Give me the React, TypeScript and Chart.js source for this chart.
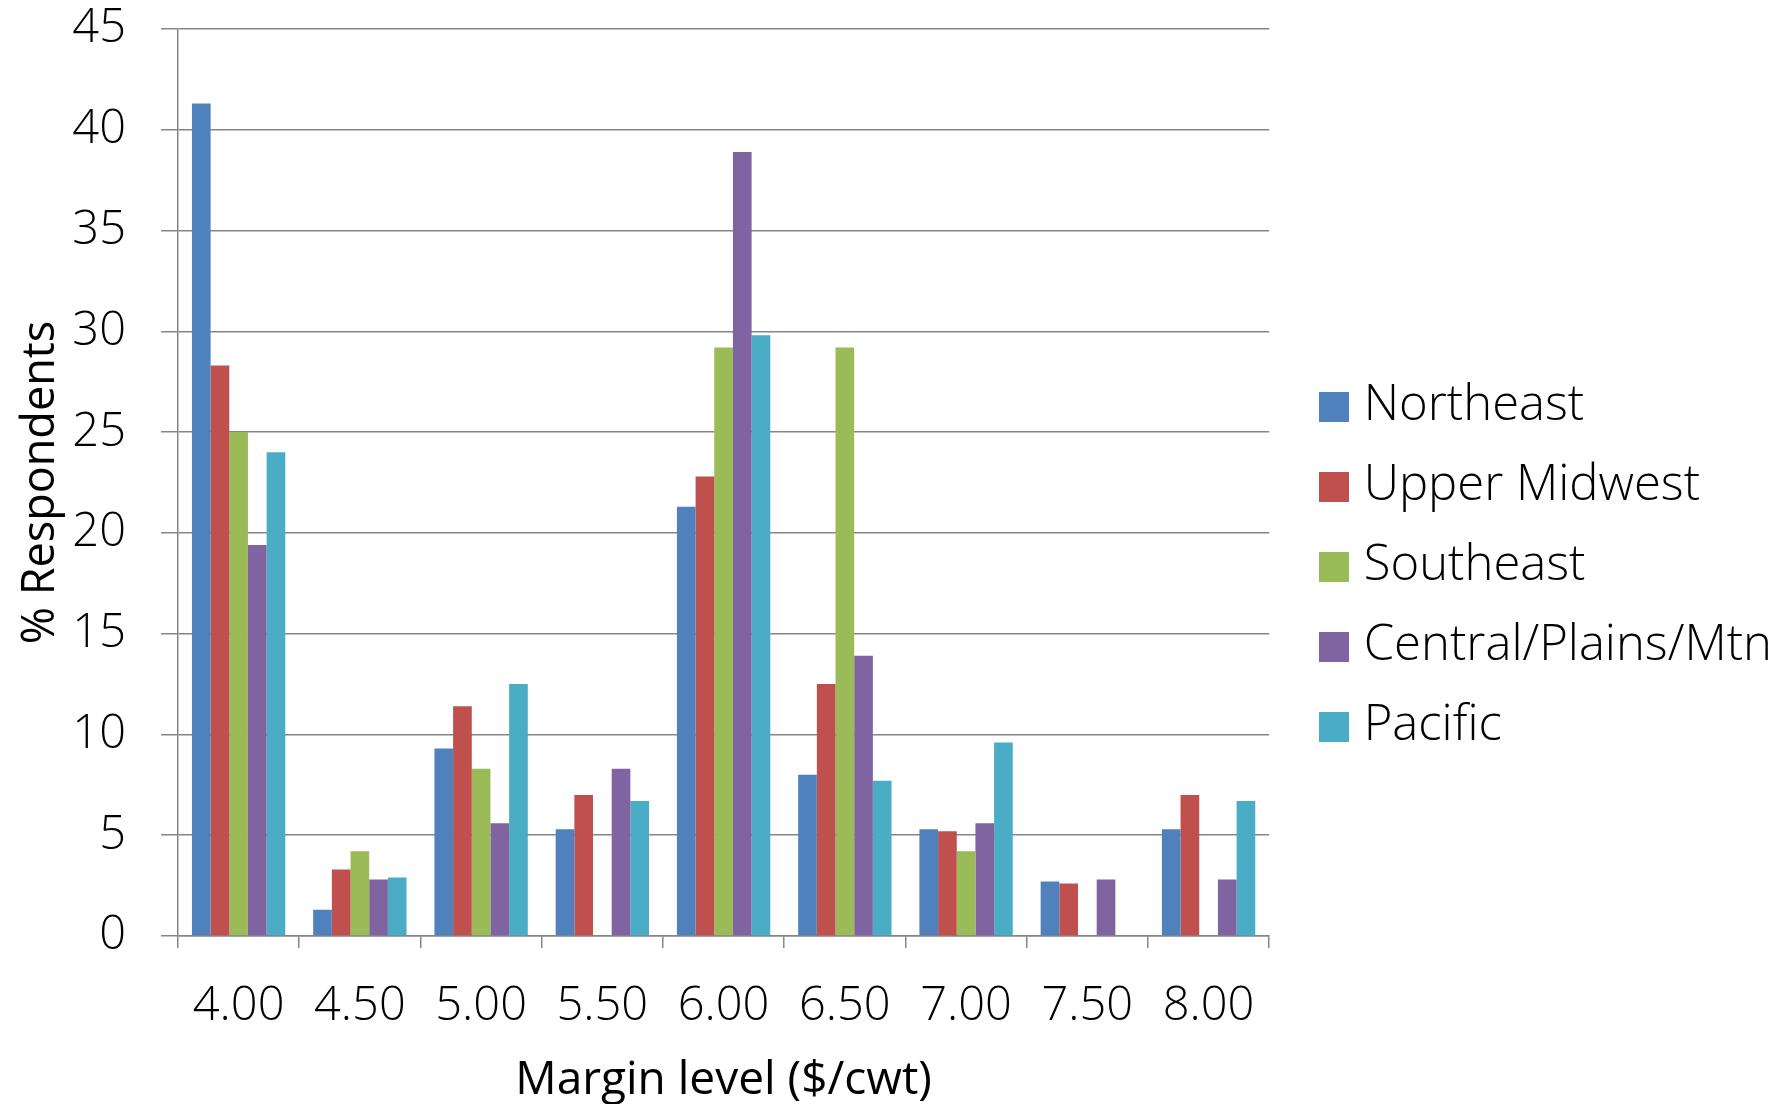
import React, { useEffect, useRef } from "react";
import { Chart, registerables } from "chart.js";

Chart.register(...registerables);

const categories = ["4.00", "4.50", "5.00", "5.50", "6.00", "6.50", "7.00", "7.50", "8.00"];
const northeast = [41.3, 1.3, 9.3, 5.3, 21.3, 8.0, 5.3, 2.7, 5.3];
const upperMidwest = [28.3, 3.3, 11.4, 7.0, 22.8, 12.5, 5.2, 2.6, 7.0];
const southeast = [25.0, 4.2, 8.3, 0, 29.2, 29.2, 4.2, 0, 0];
const centralPlainsMtn = [19.4, 2.8, 5.6, 8.3, 38.9, 13.9, 5.6, 2.8, 2.8];
const pacific = [24.0, 2.9, 12.5, 6.7, 29.8, 7.7, 9.6, 0, 6.7];

const seriesNames = ["Northeast", "Upper Midwest", "Southeast", "Central/Plains/Mtn", "Pacific"];
const seriesColors = ["#4F81BD", "#C0504D", "#9BBB59", "#8064A2", "#4BACC6"];

const FONT = "'Open Sans', 'Noto Sans', sans-serif";
const GRID = "#868686";

const legendShift = {
  id: "legendShift",
  afterLayout(chart: any) {
    const lg = chart.legend;
    if (lg) {
      const dx = chart.chartArea.right + 29 - lg.left;
      lg.left += dx;
      lg.right += dx;
    }
  },
};

function swatch(color: string) {
  const c = document.createElement("canvas");
  c.width = 30;
  c.height = 30;
  const g = c.getContext("2d");
  if (g) {
    g.fillStyle = color;
    g.fillRect(0, 0, 30, 30);
  }
  return c;
}

export default function App() {
  const ref = useRef<HTMLCanvasElement | null>(null);
  useEffect(() => {
    if (!ref.current) return;
    const values = [northeast, upperMidwest, southeast, centralPlainsMtn, pacific];
    const swatches = seriesColors.map(swatch);
    const chart = new Chart(ref.current, {
      type: "bar",
      data: {
        labels: categories,
        datasets: seriesNames.map((name, i) => ({
          label: name,
          data: values[i],
          backgroundColor: seriesColors[i],
          borderWidth: 0,
          barPercentage: 1,
          categoryPercentage: 0.77,
        })),
      },
      options: {
        responsive: false,
        animation: false,
        layout: { padding: { top: 29, right: 34, bottom: 0, left: 0 } },
        plugins: {
          tooltip: { enabled: false },
          legend: {
            position: "right",
            maxWidth: 700,
            labels: {
              usePointStyle: true,
              boxWidth: 10,
              boxHeight: 30,
              padding: 31,
              color: "#000",
              font: { family: FONT, size: 49, weight: "300" as any },
              generateLabels: (c: any) => {
                const items = Chart.defaults.plugins.legend.labels.generateLabels(c);
                items.forEach((it: any, i: number) => {
                  it.pointStyle = swatches[i];
                  it.lineWidth = 0;
                });
                return items;
              },
            },
          },
        },
        scales: {
          x: {
            afterFit: (s: any) => {
              s.height = 168;
              s.paddingLeft = 0;
              s.paddingRight = 0;
            },
            grid: {
              offset: true,
              drawOnChartArea: false,
              drawTicks: true,
              tickLength: 12,
              color: GRID,
              lineWidth: 1.5,
            },
            border: { display: true, color: GRID, width: 1.5 },
            ticks: {
              color: "#000",
              padding: 30,
              maxRotation: 0,
              font: { family: FONT, size: 47, weight: "300" as any },
            },
            title: {
              display: true,
              text: "Margin level ($/cwt)",
              color: "#000",
              padding: { top: 0, bottom: -4 },
              font: { family: FONT, size: 46, weight: "400" as any },
            },
          },
          y: {
            min: 0,
            max: 45,
            afterFit: (s: any) => {
              s.width = 178;
              s.paddingTop = 0;
              s.paddingBottom = 0;
            },
            grid: { color: GRID, lineWidth: 1.5, tickLength: 17, drawTicks: true },
            border: { display: true, color: GRID, width: 1.5 },
            ticks: {
              stepSize: 5,
              color: "#000",
              padding: 35,
              font: { family: FONT, size: 47, weight: "300" as any },
            },
            title: {
              display: true,
              text: "% Respondents",
              color: "#000",
              padding: { top: 14, bottom: 0 },
              font: { family: FONT, size: 45, weight: "400" as any },
            },
          },
        },
      },
      plugins: [legendShift],
    });
    return () => chart.destroy();
  }, []);
  return (
    <div style={{ position: "fixed", left: 0, top: 0, width: 1787, height: 1104, background: "#fff" }}>
      <canvas ref={ref} width={1787} height={1104} style={{ display: "block" }} />
    </div>
  );
}
